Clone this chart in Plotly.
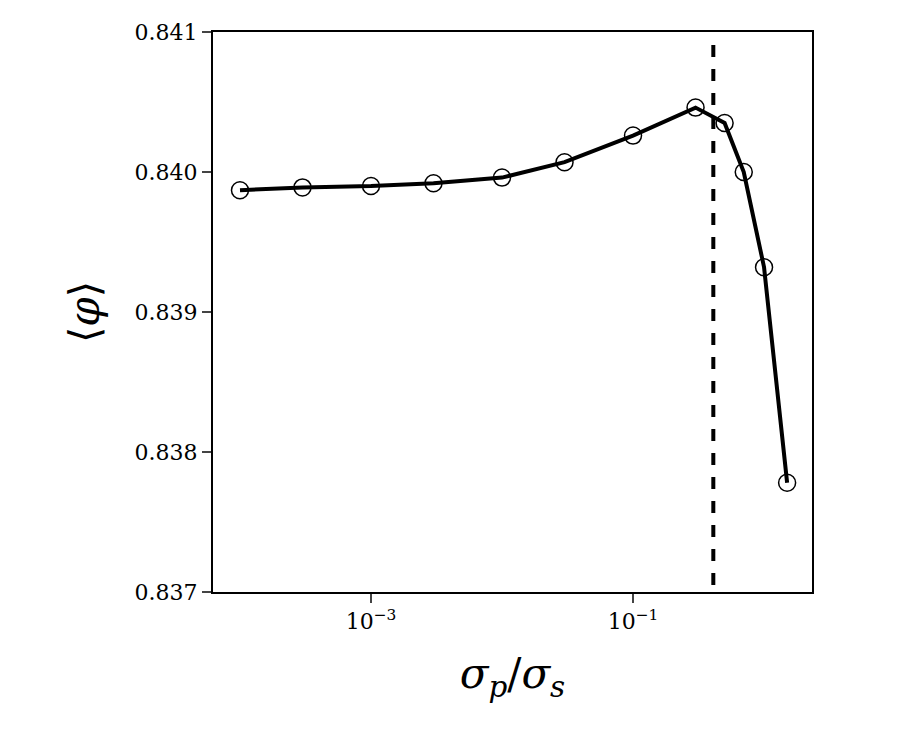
import plotly.graph_objects as go

ratio = [1e-4, 3e-4, 1e-3, 3e-3, 1e-2, 3e-2, 0.1, 0.3, 0.5, 0.7, 1.0, 1.5]
phi = [0.83987, 0.83989, 0.83990, 0.83992, 0.83996, 0.84007, 0.84026,
       0.84046, 0.84035, 0.84000, 0.83932, 0.83778]
vline_x = 0.41
xtick_vals = [1e-3, 1e-1]
xtick_text = ["10<sup>−3</sup>", "10<sup>−1</sup>"]
ytick_vals = [0.837, 0.838, 0.839, 0.840, 0.841]

fig = go.Figure()
fig.add_trace(go.Scatter(x=ratio, y=phi, mode="lines+markers",
                         line=dict(color="black", width=4),
                         marker=dict(symbol="circle-open", size=17, color="black",
                                     line=dict(width=1.5, color="black")),
                         showlegend=False))
fig.add_trace(go.Scatter(x=[vline_x, vline_x], y=[0.83705, 0.84095], mode="lines",
                         line=dict(color="black", width=4, dash="dash"), showlegend=False))

font = "DejaVu Serif"
fig.update_layout(
    width=900, height=750, plot_bgcolor="white", paper_bgcolor="white",
    margin=dict(l=205, r=96, t=16, b=166),
    font=dict(family=font, color="black", size=22),
    xaxis=dict(type="log", range=[-4.206, 0.366], tickvals=xtick_vals, ticktext=xtick_text,
               ticks="outside", ticklen=9, tickwidth=1.5, showgrid=False, zeroline=False,
               showline=True, linecolor="black", linewidth=2, mirror=True,
               title=dict(text="<i>σ<sub>p</sub></i>/<i>σ<sub>s</sub></i>", font=dict(size=42), standoff=25)),
    yaxis=dict(range=[0.837, 0.841], tickvals=ytick_vals, tickformat=".3f",
               ticks="outside", ticklen=9, tickwidth=1.5, showgrid=False, zeroline=False,
               showline=True, linecolor="black", linewidth=2, mirror=True,
               title=dict(text="⟨<i>φ</i>⟩", font=dict(size=42), standoff=22)),
)
fig.write_html("out.html")
